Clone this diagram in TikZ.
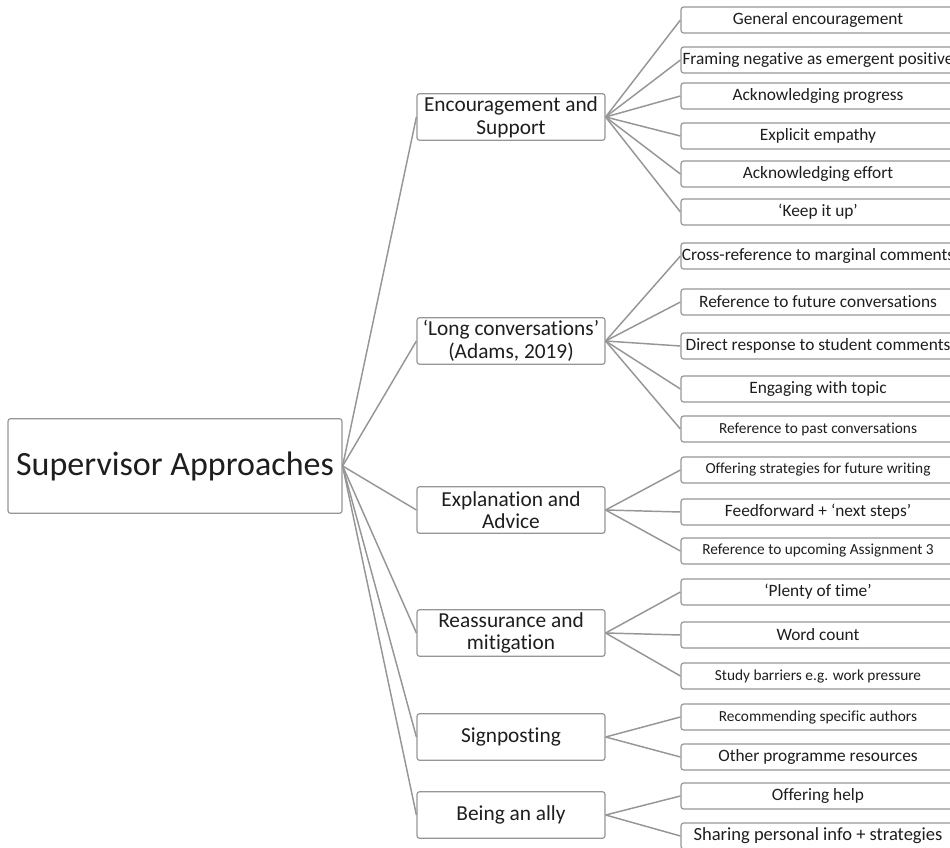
\documentclass[tikz,border=0pt]{standalone}
\usepackage{fontspec}
\setmainfont{Carlito}[Ligatures=NoCommon]
\usepackage{tikz}
\usetikzlibrary{positioning}
\definecolor{linegray}{RGB}{150,150,150}
\definecolor{inkgray}{RGB}{30,30,30}

\begin{document}
\begin{tikzpicture}[
            x = 0.75pt, % one unit is one pixel of the reference
            y = -0.75pt,
            line width = 1.1pt, % line style
            text = inkgray
        ]

        \tikzstyle{box}=[
            draw = linegray,
            line width = 0.9pt,
            rounded corners = 2pt,
            fill = white,
            inner sep = 0pt
        ]
        \tikzstyle{root}=[box, minimum width = 250.5pt, minimum height = 71pt,
            font = \fontsize{25.5}{30}\selectfont]
        \tikzstyle{topic}=[box, minimum width = 141pt, minimum height = 35pt,
            align = center, font = \fontsize{16}{17}\selectfont]
        \tikzstyle{leaf}=[box, minimum width = 205.5pt, minimum height = 19.5pt,
            font = \fontsize{13}{15}\selectfont]
        \tikzstyle{small leaf}=[leaf, font = \fontsize{11.5}{13}\selectfont]
        \tikzstyle{big leaf}=[leaf, font = \fontsize{13.9}{15}\selectfont]
        \tikzstyle{branch}=[draw = linegray]

        \useasboundingbox (0,0) rectangle (950,848);

	% main level
        \node[root] (SA) at (175,466) {Supervisor Approaches};

        \node[topic] (ES) at (511,117) {Encouragement and\\Support};
        \node[topic] (LC) at (511,341) {‘Long conversations’\\(Adams, 2019)};
        \node[topic] (EA) at (511,510) {Explanation and\\Advice};
        \node[topic] (RM) at (511,633) {Reassurance and\\mitigation};
        \node[topic] (SP) at (511,737) {Signposting};
        \node[topic] (BA) at (511,815) {Being an ally};

        \path[branch] (SA.east) edge (ES.west);
        \path[branch] (SA.east) edge (LC.west);
        \path[branch] (SA.east) edge (EA.west);
        \path[branch] (SA.east) edge (RM.west);
        \path[branch] (SA.east) edge (SP.west);
        \path[branch] (SA.east) edge (BA.west);

         % approaches
         \node[leaf] (ES1) at (818,20) {General encouragement};
         \node[leaf] (ES2) at (818,60) {Framing negative as emergent positive};
         \node[leaf] (ES3) at (818,96) {Acknowledging progress};
         \node[leaf] (ES4) at (818,136) {Explicit empathy};
         \node[leaf] (ES5) at (818,174) {Acknowledging effort};
         \node[leaf] (ES6) at (818,212) {‘Keep it up’};

         \node[leaf] (LC1) at (818,256) {Cross-reference to marginal comments};
         \node[leaf] (LC2) at (818,302) {Reference to future conversations};
         \node[leaf] (LC3) at (818,346) {Direct response to student comments};
         \node[leaf] (LC4) at (818,389) {Engaging with topic};
         \node[small leaf] (LC5) at (818,429) {Reference to past conversations};

         \node[small leaf] (EA1) at (818,470) {Offering strategies for future writing};
         \node[leaf] (EA2) at (818,512) {Feedforward + ‘next steps’};
         \node[small leaf] (EA3) at (818,551) {Reference to upcoming Assignment 3};

         \node[leaf] (RM1) at (818,592) {‘Plenty of time’};
         \node[leaf] (RM2) at (818,635) {Word count};
         \node[small leaf] (RM3) at (818,676) {Study barriers e.g. work pressure};

         \node[small leaf] (SP1) at (818,717) {Recommending specific authors};
         \node[leaf] (SP2) at (818,757) {Other programme resources};

         \node[leaf] (BA1) at (818,796) {Offering help};
         \node[big leaf] (BA2) at (818,836) {Sharing personal info + strategies};

         \path[branch] (ES.east) edge (ES1.west) edge (ES2.west) edge (ES3.west)
                                 edge (ES4.west) edge (ES5.west) edge (ES6.west);
         \path[branch] (LC.east) edge (LC1.west) edge (LC2.west) edge (LC3.west)
                                 edge (LC4.west) edge (LC5.west);
         \path[branch] (EA.east) edge (EA1.west) edge (EA2.west) edge (EA3.west);
         \path[branch] (RM.east) edge (RM1.west) edge (RM2.west) edge (RM3.west);
         \path[branch] (SP.east) edge (SP1.west) edge (SP2.west);
         \path[branch] (BA.east) edge (BA1.west) edge (BA2.west);

  \end{tikzpicture}
\end{document}
